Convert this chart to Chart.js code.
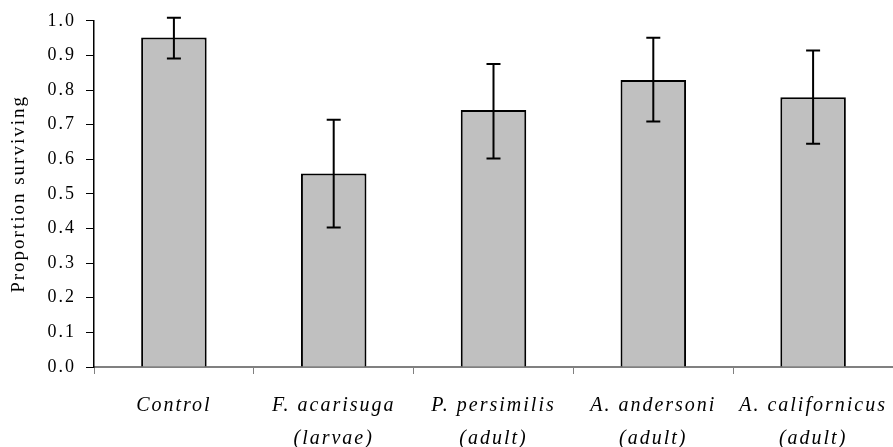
<!DOCTYPE html>
<html>
<head>
<meta charset="utf-8">
<script src="https://cdn.jsdelivr.net/npm/chart.js@4/dist/chart.umd.min.js"></script>
<style>
  html, body { margin: 0; padding: 0; background: #fff; }
  #wrap { width: 893px; height: 447px; }
</style>
</head>
<body>
<div id="wrap"><canvas id="survival-chart"></canvas></div>
<script>
// data
const treatments = [
    "Control",
    ["F. acarisuga", "(larvae)"],
    ["P. persimilis", "(adult)"],
    ["A. andersoni", "(adult)"],
    ["A. californicus", "(adult)"],
];
const survival = [0.952, 0.559, 0.742, 0.829, 0.779];
const errUpper = [1.009, 0.714, 0.875, 0.951, 0.914];
const errLower = [0.891, 0.403, 0.602, 0.709, 0.645];
const yTicks = [0, 0.1, 0.2, 0.3, 0.4, 0.5, 0.6, 0.7, 0.8, 0.9, 1.0];

const serif = "'Liberation Serif', 'Times New Roman', serif";

// the original text is set with loose letter spacing
const spacing = {
    id: "spacing",
    beforeUpdate(chart) { chart.ctx.letterSpacing = "2px"; },
    beforeDraw(chart) { chart.ctx.letterSpacing = "2px"; },
};

// draws the error bars on top of the bars
const errorBars = {
    id: "errorBars",
    afterDatasetsDraw(chart) {
        const ctx = chart.ctx;
        const y = chart.scales.y;
        const meta = chart.getDatasetMeta(0);
        ctx.save();
        ctx.strokeStyle = "#000";
        ctx.lineWidth = 2;
        meta.data.forEach((bar, i) => {
            const top = y.getPixelForValue(errUpper[i]);
            const bottom = y.getPixelForValue(errLower[i]);
            ctx.beginPath();
            ctx.moveTo(bar.x, top);
            ctx.lineTo(bar.x, bottom);
            ctx.moveTo(bar.x - 7, top);
            ctx.lineTo(bar.x + 7, top);
            ctx.moveTo(bar.x - 7, bottom);
            ctx.lineTo(bar.x + 7, bottom);
            ctx.stroke();
        });
        ctx.restore();
    },
};

new Chart(document.getElementById("survival-chart").getContext("2d"), {
    type: "bar",
    data: {
        labels: treatments,
        datasets: [{
            data: survival,
            backgroundColor: "#c0c0c0",
            borderColor: "#000",
            borderWidth: 2,
            barPercentage: 0.41,
            categoryPercentage: 1,
        }],
    },
    options: {
        responsive: true,
        maintainAspectRatio: false,
        animation: false,
        layout: {
            padding: { top: 17, right: 0, left: 0, bottom: 0 },
        },
        plugins: {
            legend: { display: false },
            tooltip: { enabled: false },
        },
        scales: {
            x: {
                offset: true,
                grid: {
                    offset: true,
                    drawOnChartArea: false,
                    tickLength: 7,
                    color: "#808080",
                },
                border: { color: "#808080", width: 2 },
                ticks: {
                    color: "#000",
                    padding: 15,
                    maxRotation: 0,
                    autoSkip: false,
                    font: { family: serif, size: 20, style: "italic", lineHeight: 1.65 },
                },
                afterFit(scale) {
                    scale.height = 80;
                    scale.paddingLeft = 0;
                    scale.paddingRight = 0;
                },
            },
            y: {
                min: 0,
                max: 1,
                afterBuildTicks(scale) {
                    scale.ticks = yTicks.map((v) => ({ value: v }));
                },
                grid: {
                    drawOnChartArea: false,
                    tickLength: 8,
                    color: "#000",
                },
                border: { color: "#000", width: 1.5 },
                ticks: {
                    color: "#000",
                    padding: 10,
                    font: { family: serif, size: 18 },
                    callback: (v) => Number(v).toFixed(1),
                },
                title: {
                    display: true,
                    text: "Proportion surviving",
                    color: "#000",
                    padding: { top: 8, bottom: 4 },
                    font: { family: serif, size: 19 },
                },
                afterFit(scale) { scale.width = 94; },
            },
        },
    },
    plugins: [spacing, errorBars],
});
</script>
</body>
</html>
